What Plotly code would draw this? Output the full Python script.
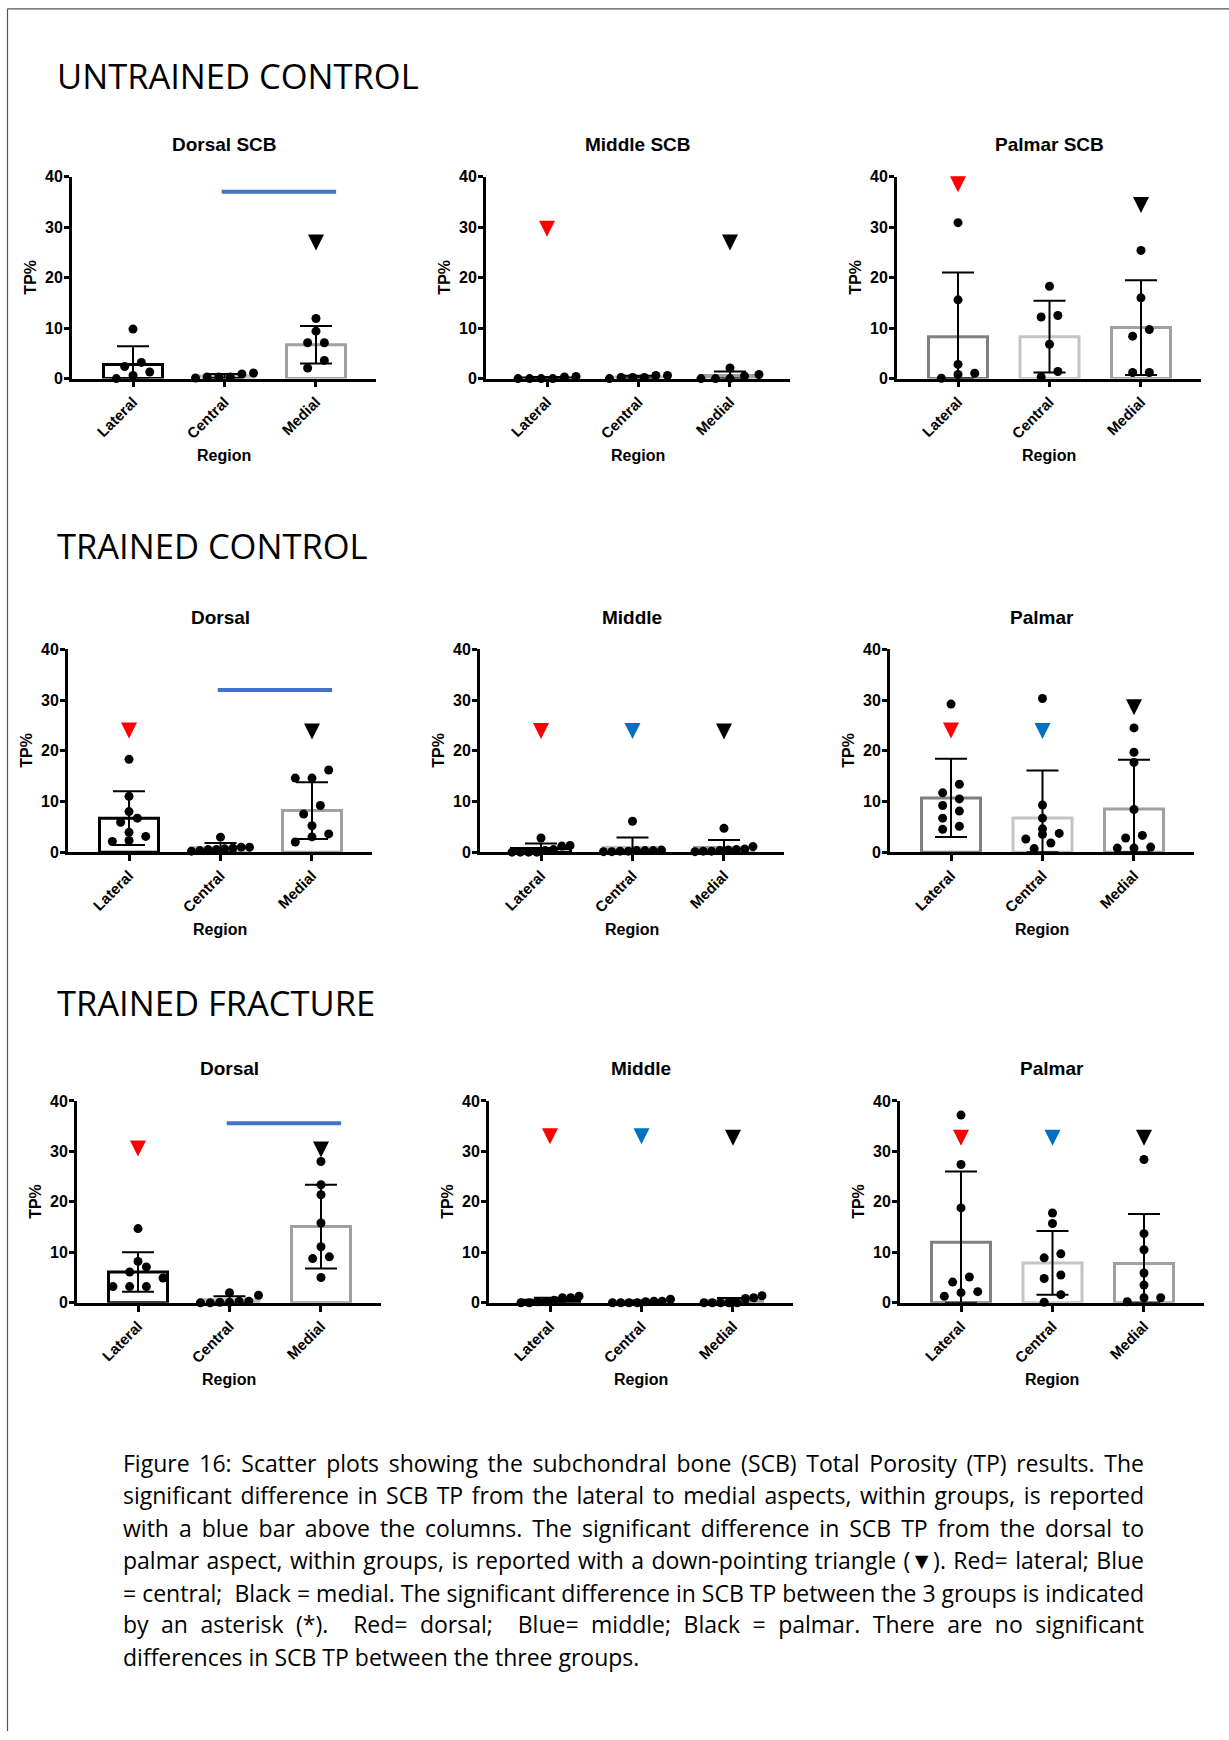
import numpy as np
import plotly.graph_objects as go

W, H = 1229, 1740

# ------------------------------------------------------------------ data
categories = ["Lateral", "Central", "Medial"]
y_tick_vals = [0, 10, 20, 30, 40]
group_titles = ["UNTRAINED CONTROL", "TRAINED CONTROL", "TRAINED FRACTURE"]
panel_titles = ["Dorsal SCB", "Middle SCB", "Palmar SCB",
                "Dorsal", "Middle", "Palmar",
                "Dorsal", "Middle", "Palmar"]
x_title = "Region"
y_title = "TP%"

# Untrained control
uc_dorsal_points = [[9.8, 3.2, 2.4, 0.0, 1.3, 0.6],
                    [0.3, 1.1, 0.3, 0.9, 0.1, 0.3],
                    [11.9, 9.4, 7.1, 7.1, 3.6, 2.1]]
uc_dorsal_mean = [2.8, 0.5, 6.7]
uc_dorsal_sd = [3.6, 0.4, 3.7]
uc_dorsal_triangles = [None, None, 25.4]
uc_dorsal_sigbar = 37.0

uc_middle_points = [[0.0, 0.4, 0.0, 0.3, 0.0, 0.0],
                    [0.2, 0.6, 0.2, 0.6, 0.0, 0.2],
                    [0.0, 0.8, 0.0, 2.1, 0.5, 0.0]]
uc_middle_mean = [0.1, 0.3, 0.6]
uc_middle_sd = [0.2, 0.25, 0.8]
uc_middle_triangles = [28.1, None, 25.4]
uc_middle_sigbar = None

uc_palmar_points = [[30.9, 15.6, 2.8, 1.05, 0.07, 0.8],
                    [18.3, 12.5, 12.2, 6.8, 0.3, 1.4],
                    [25.4, 16.0, 8.4, 9.7, 1.2, 1.2]]
uc_palmar_mean = [8.3, 8.3, 10.1]
uc_palmar_sd = [12.7, 7.1, 9.4]
uc_palmar_triangles = [36.9, None, 32.8]
uc_palmar_sigbar = None

# Trained control
tc_dorsal_points = [[18.3, 11.0, 6.7, 8.0, 5.9, 3.9, 2.1, 3.1, 2.3],
                    [2.95, 0.65, 0.98, 0.98, 0.8, 0.5, 0.3, 0.5, 0.2],
                    [16.2, 14.6, 14.6, 9.2, 7.5, 5.2, 3.6, 2.0, 3.0]]
tc_dorsal_mean = [6.7, 0.9, 8.2]
tc_dorsal_sd = [5.3, 0.9, 5.6]
tc_dorsal_triangles = [22.4, None, 22.2]
tc_dorsal_sigbar = 32.0

tc_middle_points = [[2.8, 1.3, 1.2, 0.0, 0.3, 0.0, 0.5, 0.0, 0.0],
                    [6.1, 0.3, 0.4, 0.2, 0.3, 0.1, 0.3, 0.2, 0.1],
                    [4.7, 1.1, 0.2, 0.6, 0.3, 0.5, 0.4, 0.1, 0.2]]
tc_middle_mean = [0.7, 0.9, 0.9]
tc_middle_sd = [1.0, 2.0, 1.5]
tc_middle_triangles = [22.3, 22.3, 22.2]
tc_middle_sigbar = None

tc_palmar_points = [[29.2, 13.4, 11.7, 10.5, 9.2, 8.1, 6.7, 5.1, 4.5],
                    [30.3, 9.3, 6.7, 4.6, 3.7, 3.5, 2.6, 1.8, 0.7],
                    [24.5, 19.7, 17.7, 8.4, 3.3, 2.8, 0.8, 1.0, 0.8]]
tc_palmar_mean = [10.7, 6.75, 8.5]
tc_palmar_sd = [7.7, 9.35, 9.7]
tc_palmar_triangles = [22.4, 22.3, 27.0]
tc_palmar_sigbar = None

# Trained fracture
tf_dorsal_points = [[14.7, 7.1, 8.2, 6.1, 4.9, 3.2, 3.2, 3.2],
                    [1.5, 2.0, 0.0, 0.1, 0.3, 0.3, 0.1, 0.0],
                    [28.0, 23.4, 21.4, 15.8, 11.1, 9.1, 8.75, 5.0]]
tf_dorsal_mean = [6.1, 0.6, 15.1]
tf_dorsal_sd = [3.9, 0.7, 8.3]
tf_dorsal_triangles = [29.0, None, 28.8]
tf_dorsal_sigbar = 35.6

tf_middle_points = [[0.0, 1.3, 0.5, 1.0, 0.2, 1.0, 0.0, 0.2],
                    [0.0, 0.7, 0.2, 0.3, 0.0, 0.3, 0.0, 0.0],
                    [0.0, 1.4, 0.0, 1.0, 0.0, 0.85, 0.0, 0.0]]
tf_middle_mean = [0.5, 0.2, 0.4]
tf_middle_sd = [0.5, 0.25, 0.55]
tf_middle_triangles = [31.4, 31.4, 31.1]
tf_middle_sigbar = None

tf_palmar_points = [[37.2, 27.4, 18.8, 4.1, 5.1, 1.3, 2.2, 2.0],
                    [17.8, 15.7, 8.9, 9.7, 4.8, 5.5, 1.6, 0.1],
                    [28.4, 13.7, 10.5, 5.9, 3.5, 1.0, 0.2, 1.0]]
tf_palmar_mean = [12.0, 7.9, 7.8]
tf_palmar_sd = [14.0, 6.3, 9.8]
tf_palmar_triangles = [31.1, 31.1, 31.1]
tf_palmar_sigbar = None

caption_lines = [
    "Figure 16: Scatter plots showing the subchondral bone (SCB) Total Porosity (TP) results. The",
    "significant difference in SCB TP from the lateral to medial aspects, within groups, is reported",
    "with a blue bar above the columns. The significant difference in SCB TP from the dorsal to",
    "palmar aspect, within groups, is reported with a down-pointing triangle (\u25bc). Red= lateral; Blue",
    "= central;  Black = medial. The significant difference in SCB TP between the 3 groups is indicated",
    "by an asterisk (*).  Red= dorsal;  Blue= middle; Black = palmar. There are no significant",
    "differences in SCB TP between the three groups.",
]

panels = [
    (uc_dorsal_points, uc_dorsal_mean, uc_dorsal_sd, uc_dorsal_triangles, uc_dorsal_sigbar, "dorsal"),
    (uc_middle_points, uc_middle_mean, uc_middle_sd, uc_middle_triangles, uc_middle_sigbar, "middle"),
    (uc_palmar_points, uc_palmar_mean, uc_palmar_sd, uc_palmar_triangles, uc_palmar_sigbar, "palmar"),
    (tc_dorsal_points, tc_dorsal_mean, tc_dorsal_sd, tc_dorsal_triangles, tc_dorsal_sigbar, "dorsal"),
    (tc_middle_points, tc_middle_mean, tc_middle_sd, tc_middle_triangles, tc_middle_sigbar, "middle"),
    (tc_palmar_points, tc_palmar_mean, tc_palmar_sd, tc_palmar_triangles, tc_palmar_sigbar, "palmar"),
    (tf_dorsal_points, tf_dorsal_mean, tf_dorsal_sd, tf_dorsal_triangles, tf_dorsal_sigbar, "dorsal"),
    (tf_middle_points, tf_middle_mean, tf_middle_sd, tf_middle_triangles, tf_middle_sigbar, "middle"),
    (tf_palmar_points, tf_palmar_mean, tf_palmar_sd, tf_palmar_triangles, tf_palmar_sigbar, "palmar"),
]

# ------------------------------------------------------------------ styles / layout geometry
ARIAL = "Liberation Sans, Arial, sans-serif"
CAL = "Open Sans, sans-serif"
bar_line_colors = {"dorsal": ["#000000", "#c0c0c0", "#a0a0a0"],
                   "middle": ["#000000", "#c0c0c0", "#a0a0a0"],
                   "palmar": ["#808080", "#c4c4c4", "#a0a0a0"]}
tri_colors = ["#FF0000", "#0070C0", "#000000"]
SIG_COLOR = "#4472C4"

# vertical placement correction for the capture (measured offset/scale)
V_SCALE, V_SHIFT = 1.009, -8.2


def py(v):
    """page pixel (top-down, reference coordinates) -> paper fraction"""
    return 1 - (v * V_SCALE + V_SHIFT) / H


panel_left = [[72, 486, 897], [68, 480, 890], [77, 489, 900]]
panel_top = [177, 650, 1102]
panel_bottom = [379, 853, 1304]
PANEL_W = 304
X_RANGE = [-0.667, 2.656]
PX_PER_CAT = 91.5
title_y = [145, 618, 1070]
region_y = [456, 930, 1381]
heading_y = [76, 546, 1003]
BAR_W = 0.645
DOT = 9


def swarm_offsets(vals, px_per_y):
    """Simple deterministic beeswarm: points closer than a dot diameter share a row."""
    vals = np.asarray(vals, dtype=float)
    order = np.argsort(vals, kind="stable")
    rows, cur = [], []
    for i in order:
        if cur and (vals[i] - vals[cur[0]]) * px_per_y < DOT:
            cur.append(i)
        else:
            if cur:
                rows.append(cur)
            cur = [i]
    if cur:
        rows.append(cur)
    offs = np.zeros(len(vals))
    for row in rows:
        n = len(row)
        if n == 1:
            continue
        step = min(16.7, 58.0 / (n - 1)) / PX_PER_CAT
        for j, i in enumerate(row):
            offs[i] = (j - (n - 1) / 2) * step
    return offs


fig = go.Figure()
layout = dict(width=W, height=H, margin=dict(l=0, r=0, t=0, b=0),
              paper_bgcolor="white", plot_bgcolor="white", showlegend=False)
annotations = []
shapes = []

for k, (pts, mean, sd, tri, sig, aspect) in enumerate(panels):
    r, c = divmod(k, 3)
    sfx = "" if k == 0 else str(k + 1)
    xr, yr = "x" + sfx, "y" + sfx
    left = panel_left[r][c]
    top, bottom = panel_top[r], panel_bottom[r]
    px_per_y = (bottom - top) / 40.0

    # bars with SD error bars
    fig.add_trace(go.Bar(
        x=[0, 1, 2], y=mean, width=BAR_W, xaxis=xr, yaxis=yr,
        marker=dict(color="rgba(0,0,0,0)", line=dict(color=bar_line_colors[aspect], width=3)),
        error_y=dict(type="data", symmetric=False, array=sd,
                     arrayminus=[min(s, m) for s, m in zip(sd, mean)],
                     color="black", thickness=2, width=16),
        hoverinfo="skip"))

    # significance bar (lateral -> medial)
    if sig is not None:
        fig.add_trace(go.Scatter(x=[1 - 0.03, 2 + 0.22], y=[sig, sig], mode="lines",
                                 line=dict(color=SIG_COLOR, width=4),
                                 xaxis=xr, yaxis=yr, hoverinfo="skip"))

    # individual points
    for i in range(3):
        offs = swarm_offsets(pts[i], px_per_y)
        fig.add_trace(go.Scatter(
            x=[i + o for o in offs], y=pts[i], mode="markers",
            marker=dict(size=DOT, color="black"), cliponaxis=False,
            xaxis=xr, yaxis=yr, hoverinfo="skip"))

    # dorsal-to-palmar significance triangles
    tx = [i for i, t in enumerate(tri) if t is not None]
    if tx:
        fig.add_trace(go.Scatter(
            x=tx, y=[tri[i] for i in tx], mode="markers",
            marker=dict(symbol="arrow-down", size=16, color=[tri_colors[i] for i in tx],
                        line=dict(width=0)),
            cliponaxis=False, xaxis=xr, yaxis=yr, hoverinfo="skip"))

    layout["xaxis" + sfx] = dict(
        domain=[left / W, (left + PANEL_W) / W], anchor=yr, range=X_RANGE,
        tickvals=[0, 1, 2], ticktext=categories, tickangle=-45,
        ticks="outside", ticklen=6, tickwidth=2.5, tickcolor="black",
        showline=True, linecolor="black", linewidth=2.8,
        showgrid=False, zeroline=False, fixedrange=True,
        tickfont=dict(family=ARIAL, size=15, color="black", weight="bold"))
    layout["yaxis" + sfx] = dict(
        domain=[py(bottom), py(top)], anchor=xr, range=[0, 40],
        tickvals=y_tick_vals, ticks="outside", ticklen=5, tickwidth=2.5, tickcolor="black",
        ticklabelstandoff=-2,
        showline=True, linecolor="black", linewidth=2.8,
        showgrid=False, zeroline=False, fixedrange=True,
        tickfont=dict(family=ARIAL, size=16, color="black", weight="bold"))

    cx = (left + 152) / W
    annotations.append(dict(text=panel_titles[k], x=cx, y=py(title_y[r]), xref="paper", yref="paper",
                            xanchor="center", yanchor="middle", showarrow=False,
                            font=dict(family=ARIAL, size=19, color="black", weight="bold")))
    annotations.append(dict(text=x_title, x=cx, y=py(region_y[r]), xref="paper", yref="paper",
                            xanchor="center", yanchor="middle", showarrow=False,
                            font=dict(family=ARIAL, size=16, color="black", weight="bold")))
    annotations.append(dict(text=y_title, x=(left - 41) / W, y=py((top + bottom) / 2),
                            xref="paper", yref="paper", textangle=-90,
                            xanchor="center", yanchor="middle", showarrow=False,
                            font=dict(family=ARIAL, size=16, color="black", weight="bold")))

for r, t in enumerate(group_titles):
    annotations.append(dict(text=t, x=55 / W, y=py(heading_y[r]), xref="paper", yref="paper",
                            xanchor="left", yanchor="middle", showarrow=False,
                            font=dict(family=CAL, size=34.5, color="black")))

caption_y = [1464, 1496, 1529, 1561, 1594, 1626, 1659]
for line, yy in zip(caption_lines, caption_y):
    annotations.append(dict(text=line, x=121 / W, y=py(yy), xref="paper", yref="paper",
                            xanchor="left", yanchor="middle", align="left", showarrow=False,
                            font=dict(family=CAL, size=23, color="black")))

# page frame
shapes.append(dict(type="line", xref="paper", yref="paper", x0=7.5 / W, x1=1,
                   y0=1 - 0.8 / H, y1=1 - 0.8 / H, line=dict(color="#555555", width=1.2)))
shapes.append(dict(type="line", xref="paper", yref="paper", x0=7.5 / W, x1=7.5 / W,
                   y0=0, y1=1 - 0.8 / H, line=dict(color="#555555", width=1.2)))

layout["annotations"] = annotations
layout["shapes"] = shapes
fig.update_layout(**layout)

page_js = (
    "document.documentElement.style.margin='0';document.body.style.margin='0';"
    "document.documentElement.style.overflow='hidden';document.body.style.overflow='hidden';"
    "var g=document.getElementById('{plot_id}');"
    "g.style.position='fixed';g.style.left='0px';g.style.top='0px';"
    # justify the long caption lines (as in the source document)
    "var TW=1021;"
    "g.querySelectorAll('.annotation-text').forEach(function(t){"
    "  var s=t.textContent||'';"
    "  if(s.length<80){return;}"
    "  var m=s.match(/[ \\u00a0]/g); var n=m?m.length:0; if(!n){return;}"
    "  var b0=t.getBBox(); var ws=(TW-b0.width)/n;"
    "  if(ws<=0||ws>20){return;}"
    "  t.style.wordSpacing=ws+'px';"
    "  var b1=t.getBBox(); var x=parseFloat(t.getAttribute('x'))||0;"
    "  t.setAttribute('x', x+(b0.x-b1.x));"
    "});"
)
fig.write_html("out.html", config={"displayModeBar": False}, post_script=page_js)
